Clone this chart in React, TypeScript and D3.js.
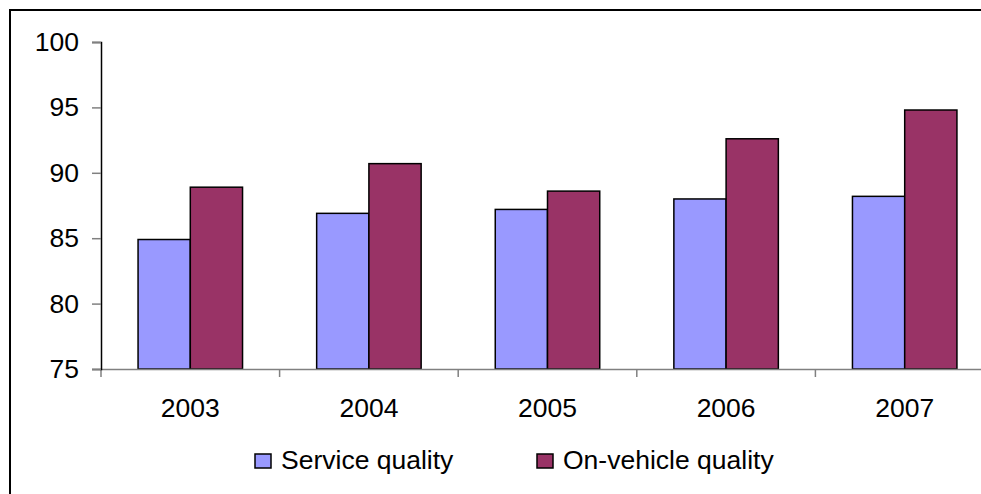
import * as d3 from 'd3'
import { useEffect, useRef } from 'react'

const years = ['2003', '2004', '2005', '2006', '2007']
const serviceQuality = [84.9, 86.9, 87.2, 88.0, 88.2]
const onVehicleQuality = [88.9, 90.7, 88.6, 92.6, 94.8]
const seriesNames = ['Service quality', 'On-vehicle quality']
const seriesColors = ['#9999FF', '#993366']
const yTicks = [75, 80, 85, 90, 95, 100]

const width = 981
const height = 494

const App = () => {
  const svgRef = useRef<SVGSVGElement>(null)

  useEffect(() => {
    const svg = d3.select(svgRef.current)
    svg.selectAll('*').remove()

    const font = '"Liberation Sans", Arial, sans-serif'
    const fontSize = 26.5
    // plot area (right side runs past the picture, like the original)
    const plot = { left: 101, right: 994, top: 42, bottom: 369 }

    // outer chart border
    svg
      .append('rect')
      .attr('x', 10)
      .attr('y', 10)
      .attr('width', width + 20)
      .attr('height', height + 20)
      .attr('fill', '#fff')
      .attr('stroke', '#000')
      .attr('stroke-width', 2)

    const x0 = d3.scaleBand().domain(years).range([plot.left, plot.right]).padding(0)
    const gap = x0.bandwidth() * 0.415
    const x1 = d3
      .scaleBand()
      .domain(seriesNames)
      .range([gap / 2, x0.bandwidth() - gap / 2])
      .padding(0)

    const y = d3.scaleLinear().domain([75, 100]).range([plot.bottom, plot.top])

    // bars
    const rows = years.map((year, i) => ({
      year,
      values: [serviceQuality[i], onVehicleQuality[i]],
    }))

    const groups = svg
      .append('g')
      .selectAll('g')
      .data(rows)
      .enter()
      .append('g')
      .attr('transform', (d) => `translate(${x0(d.year)},0)`)

    groups
      .selectAll('rect')
      .data((d) => d.values.map((v, j) => ({ name: seriesNames[j], value: v, color: seriesColors[j] })))
      .enter()
      .append('rect')
      .attr('x', (d) => x1(d.name) as number)
      .attr('y', (d) => y(d.value))
      .attr('width', x1.bandwidth())
      .attr('height', (d) => y(75) - y(d.value))
      .attr('fill', (d) => d.color)
      .attr('stroke', '#000')
      .attr('stroke-width', 1.5)

    // X axis
    const xAxis = d3.axisBottom(x0).tickSize(0).tickPadding(29)
    const gx = svg
      .append('g')
      .attr('transform', `translate(0, ${plot.bottom})`)
      .call(xAxis)
    gx.select('.domain').attr('stroke', '#808080').attr('stroke-width', 1.5)
    gx.selectAll('text')
      .attr('font-family', font)
      .attr('font-size', fontSize)
      .attr('fill', '#000')
      .attr('dy', '0.71em')
    // category boundary ticks
    gx.append('g')
      .selectAll('line')
      .data(years)
      .enter()
      .append('line')
      .attr('x1', (d) => x0(d) as number)
      .attr('x2', (d) => x0(d) as number)
      .attr('y1', 0)
      .attr('y2', 8)
      .attr('stroke', '#808080')
      .attr('stroke-width', 1.5)

    // Y axis
    const yAxis = d3.axisLeft(y).tickValues(yTicks).tickSize(9).tickPadding(13)
    const gy = svg
      .append('g')
      .attr('transform', `translate(${plot.left}, 0)`)
      .call(yAxis)
    gy.select('.domain').attr('stroke', '#000').attr('stroke-width', 1.5)
    gy.selectAll('.tick line').attr('stroke', '#808080').attr('stroke-width', 1.5)
    gy.selectAll('text')
      .attr('font-family', font)
      .attr('font-size', fontSize)
      .attr('fill', '#000')

    // legend
    const legendX = [255, 537]
    const legend = svg
      .append('g')
      .selectAll('g')
      .data(seriesNames)
      .enter()
      .append('g')
      .attr('transform', (_, i) => `translate(${legendX[i]}, 454)`)
    legend
      .append('rect')
      .attr('width', 16)
      .attr('height', 14)
      .attr('fill', (_, i) => seriesColors[i])
      .attr('stroke', '#000')
      .attr('stroke-width', 1.5)
    legend
      .append('text')
      .attr('x', 26)
      .attr('y', 15)
      .text((d) => d)
      .attr('font-family', font)
      .attr('font-size', fontSize)
      .attr('fill', '#000')
  }, [])

  return (
    <>
      <style>{'body{margin:0;overflow:hidden}'}</style>
      <svg ref={svgRef} width={width} height={height} style={{ display: 'block' }} />
    </>
  )
}

export default App
